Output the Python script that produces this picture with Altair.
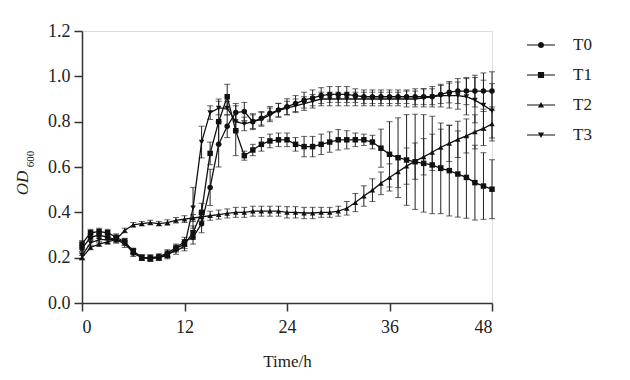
import altair as alt
import pandas as pd

hours = list(range(49))
series_names = ["T0", "T1", "T2", "T3"]

t0_vals = [0.24, 0.29, 0.30, 0.29, 0.28, 0.27, 0.22, 0.20, 0.20, 0.205,
           0.22, 0.245, 0.27, 0.29, 0.35, 0.51, 0.70, 0.78, 0.84, 0.845,
           0.80, 0.815, 0.837, 0.851, 0.866, 0.88, 0.895, 0.905, 0.915, 0.92,
           0.92, 0.92, 0.915, 0.91, 0.91, 0.91, 0.91, 0.91, 0.91, 0.91,
           0.91, 0.91, 0.92, 0.93, 0.935, 0.935, 0.935, 0.935, 0.935]
t0_err = [0.015, 0.015, 0.015, 0.015, 0.015, 0.015, 0.015, 0.012, 0.012, 0.012,
          0.015, 0.015, 0.02, 0.03, 0.04, 0.08, 0.10, 0.05, 0.04, 0.04,
          0.035, 0.03, 0.03, 0.03, 0.035, 0.035, 0.035, 0.035, 0.035, 0.035,
          0.035, 0.035, 0.03, 0.03, 0.03, 0.03, 0.03, 0.03, 0.03, 0.035,
          0.035, 0.035, 0.04, 0.047, 0.055, 0.06, 0.07, 0.08, 0.085]

t1_vals = [0.26, 0.31, 0.315, 0.31, 0.29, 0.27, 0.23, 0.20, 0.195, 0.20,
           0.21, 0.24, 0.26, 0.31, 0.40, 0.66, 0.80, 0.91, 0.76, 0.65,
           0.675, 0.70, 0.715, 0.72, 0.72, 0.70, 0.69, 0.69, 0.70, 0.71,
           0.72, 0.72, 0.72, 0.72, 0.71, 0.683, 0.656, 0.641, 0.631, 0.623,
           0.616, 0.609, 0.594, 0.584, 0.569, 0.554, 0.531, 0.516, 0.502]
t1_err = [0.015, 0.015, 0.015, 0.015, 0.015, 0.015, 0.012, 0.012, 0.012, 0.012,
          0.015, 0.015, 0.02, 0.03, 0.04, 0.05, 0.10, 0.055, 0.11, 0.02,
          0.025, 0.03, 0.03, 0.03, 0.03, 0.03, 0.045, 0.045, 0.045, 0.045,
          0.045, 0.04, 0.03, 0.025, 0.03, 0.084, 0.144, 0.176, 0.20, 0.21,
          0.215, 0.215, 0.20, 0.20, 0.19, 0.18, 0.165, 0.147, 0.13]

t2_vals = [0.20, 0.245, 0.26, 0.27, 0.28, 0.32, 0.345, 0.35, 0.355, 0.35,
           0.355, 0.365, 0.37, 0.375, 0.38, 0.385, 0.39, 0.395, 0.40, 0.40,
           0.405, 0.405, 0.405, 0.405, 0.40, 0.40, 0.397, 0.397, 0.40, 0.40,
           0.405, 0.418, 0.443, 0.472, 0.498, 0.528, 0.554, 0.579, 0.604, 0.626,
           0.645, 0.665, 0.687, 0.704, 0.722, 0.737, 0.755, 0.77, 0.79]
t2_err = [0.01, 0.01, 0.01, 0.01, 0.01, 0.01, 0.01, 0.01, 0.01, 0.01,
          0.012, 0.012, 0.015, 0.015, 0.018, 0.02, 0.02, 0.02, 0.022, 0.022,
          0.022, 0.022, 0.022, 0.022, 0.025, 0.025, 0.025, 0.025, 0.022, 0.022,
          0.022, 0.03, 0.04, 0.045, 0.05, 0.05, 0.06, 0.07, 0.08, 0.08,
          0.08, 0.08, 0.08, 0.08, 0.08, 0.075, 0.075, 0.075, 0.075]

t3_vals = [0.21, 0.265, 0.28, 0.28, 0.28, 0.26, 0.225, 0.20, 0.20, 0.20,
           0.215, 0.23, 0.25, 0.42, 0.71, 0.84, 0.86, 0.86, 0.80, 0.79,
           0.80, 0.81, 0.83, 0.85, 0.86, 0.87, 0.88, 0.89, 0.90, 0.90,
           0.90, 0.90, 0.90, 0.90, 0.90, 0.90, 0.90, 0.90, 0.90, 0.90,
           0.905, 0.91, 0.915, 0.915, 0.915, 0.91, 0.895, 0.873, 0.848]
t3_err = [0.015, 0.015, 0.015, 0.015, 0.015, 0.015, 0.012, 0.012, 0.012, 0.012,
          0.015, 0.015, 0.02, 0.09, 0.07, 0.03, 0.03, 0.03, 0.04, 0.03,
          0.03, 0.03, 0.03, 0.03, 0.03, 0.03, 0.03, 0.03, 0.03, 0.03,
          0.03, 0.03, 0.03, 0.03, 0.03, 0.03, 0.03, 0.03, 0.035, 0.035,
          0.04, 0.045, 0.05, 0.055, 0.06, 0.08, 0.10, 0.11, 0.12]

values = [t0_vals, t1_vals, t2_vals, t3_vals]
errors = [t0_err, t1_err, t2_err, t3_err]

rows = []
for name, vals, errs in zip(series_names, values, errors):
    for h, v, e in zip(hours, vals, errs):
        rows.append({"time": h, "series": name, "od": v,
                     "lo": round(v - e, 4), "hi": round(v + e, 4)})
df = pd.DataFrame(rows)

FONT = "Liberation Serif"
INK = "#111111"
AXIS = "#333333"

xscale = alt.Scale(domain=[0, 48], nice=False, zero=False)
yscale = alt.Scale(domain=[0, 1.2], nice=False)
xaxis = alt.Axis(values=[0, 12, 24, 36, 48], title="Time/h", grid=False,
                 domainColor=AXIS, domainWidth=1.5, tickColor=AXIS, tickWidth=1.5,
                 tickSize=8, labelFont=FONT, labelFontSize=18, labelColor="#222",
                 labelPadding=7, titleFont=FONT, titleFontSize=17,
                 titleFontWeight="normal", titleColor="#222", titlePadding=17)
yaxis = alt.Axis(values=[0, 0.2, 0.4, 0.6, 0.8, 1.0, 1.2], format=".1f", title=None,
                 grid=False, domainColor=AXIS, domainWidth=1.5, tickColor=AXIS,
                 tickWidth=1.5, tickSize=8, labelFont=FONT, labelFontSize=18,
                 labelColor="#222", labelPadding=4)

X = alt.X("time:Q", scale=xscale, axis=xaxis)

base = alt.Chart(df)

err_rule = base.mark_rule(color="#222", strokeWidth=1).encode(
    x=X, y=alt.Y("lo:Q", scale=yscale, axis=yaxis), y2="hi:Q")
cap_lo = base.mark_tick(orient="horizontal", size=6, thickness=1, color="#222").encode(
    x=X, y=alt.Y("lo:Q", scale=yscale, axis=yaxis))
cap_hi = base.mark_tick(orient="horizontal", size=6, thickness=1, color="#222").encode(
    x=X, y=alt.Y("hi:Q", scale=yscale, axis=yaxis))

lines = base.mark_line(color=INK, strokeWidth=1.3).encode(
    x=X, y=alt.Y("od:Q", scale=yscale, axis=yaxis), detail="series:N")

points = base.mark_point(filled=True, color=INK, size=30, opacity=1).encode(
    x=X, y=alt.Y("od:Q", scale=yscale, axis=yaxis),
    shape=alt.Shape("series:N",
                    scale=alt.Scale(domain=series_names,
                                    range=["circle", "square", "triangle-up", "triangle-down"]),
                    legend=None))

bar = "M-1,-0.04H1V0.04H-1Z"
legend_shapes = [
    bar + "M0.22,0A0.22,0.22 0 1,1 -0.22,0A0.22,0.22 0 1,1 0.22,0Z",
    bar + "M-0.22,-0.22H0.22V0.22H-0.22Z",
    bar + "M0,-0.22L0.22,0.17H-0.22Z",
    bar + "M0,0.22L-0.22,-0.17H0.22Z",
]

legend_layer = base.mark_point(filled=True, color=INK, size=784, opacity=1, clip=True).encode(
    x=alt.value(-2000), y=alt.value(-2000),
    shape=alt.Shape("series:N",
                    scale=alt.Scale(domain=series_names, range=legend_shapes),
                    legend=alt.Legend(title=None, orient="none", legendX=445, legendY=0,
                                      padding=0, symbolSize=784, rowPadding=8,
                                      labelOffset=18, labelFont=FONT, labelFontSize=17,
                                      labelColor="#222", symbolFillColor=INK,
                                      symbolStrokeWidth=0, symbolOpacity=1)))

title_od = alt.Chart(pd.DataFrame({"txt": ["OD"]})).mark_text(
    angle=270, font=FONT, fontStyle="italic", fontSize=17, color="#222",
    align="center", baseline="middle").encode(
    x=alt.value(-59), y=alt.value(152), text="txt:N")
title_sub = alt.Chart(pd.DataFrame({"txt": ["600"]})).mark_text(
    angle=270, font=FONT, fontSize=11, color="#222",
    align="center", baseline="middle").encode(
    x=alt.value(-51), y=alt.value(128), text="txt:N")

chart = alt.layer(err_rule, cap_lo, cap_hi, lines, points, legend_layer,
                  title_od, title_sub).resolve_scale(shape="independent").properties(
    width=410, height=272,
    autosize=alt.AutoSizeParams(type="none"),
    padding={"left": 74, "top": 23, "right": 130, "bottom": 69},
).configure_view(stroke=None).configure(background="white", font=FONT).configure_legend(
    labelFont=FONT, labelFontSize=17)

chart.save("out.html", embed_options={"renderer": "svg", "actions": False})
